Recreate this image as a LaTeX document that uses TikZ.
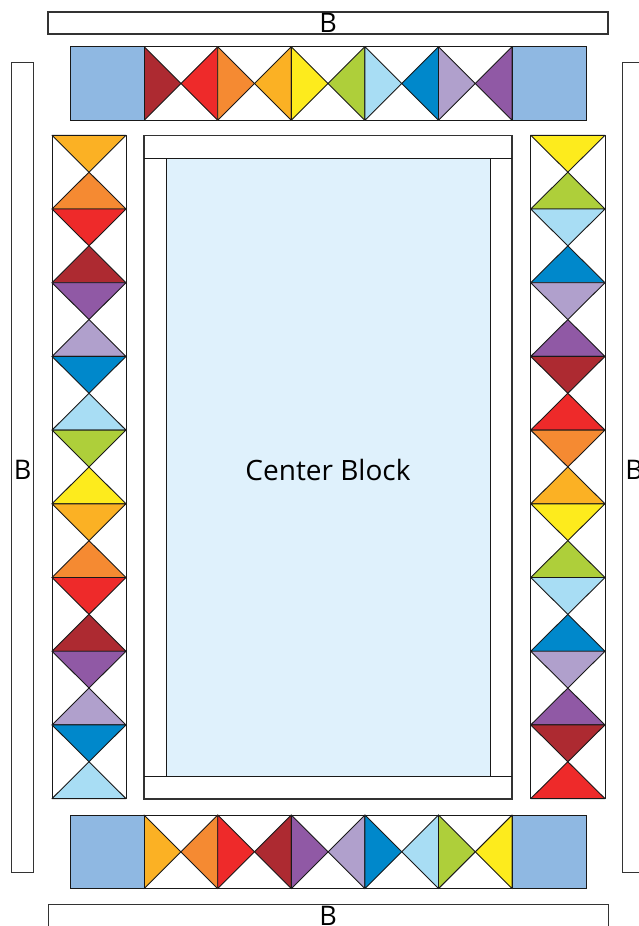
\documentclass[tikz,border=0pt]{standalone}
\usepackage{fontspec}
\setmainfont{Open Sans}
\definecolor{qdarkred}{HTML}{AD2A31}
\definecolor{qred}{HTML}{EE2A2A}
\definecolor{qorange}{HTML}{F58A32}
\definecolor{qamber}{HTML}{FBB124}
\definecolor{qyellow}{HTML}{FDEB1D}
\definecolor{qgreen}{HTML}{AECF3A}
\definecolor{qlblue}{HTML}{A8DDF4}
\definecolor{qblue}{HTML}{0088CB}
\definecolor{qlav}{HTML}{B0A0CC}
\definecolor{qpurple}{HTML}{9059A5}
\definecolor{qcorner}{HTML}{8FB8E2}
\definecolor{qcenter}{HTML}{DFF1FC}
\tikzset{
  patch/.style={draw=black!90, line width=0.9pt, line join=round},
  strip/.style={draw=black!80, line width=1.2pt, fill=white},
  lbl/.style={font=\fontsize{27}{29}\selectfont, inner sep=0pt}
}
\begin{document}
\begin{tikzpicture}[x=1pt,y=-1pt]
  \useasboundingbox (0,0) rectangle (639,926);

  % outer B strips
  \draw[strip] (48,12) rectangle (608,34);
  \draw[strip] (48.3,904.3) rectangle (608.3,940);
  \draw[strip] (11.7,62.3) rectangle (33.7,872.3);
  \draw[strip] (622.7,62.3) rectangle (660,872.3);
  \node[lbl] (btop) at (328,22.5) {B};
  \node[lbl] (bbottom) at (328,916) {B};
  \node[lbl] (bleft) at (22.7,470) {B};
  \node[lbl] (bright) at (634,470) {B};

  % center block with frame
  \draw[strip] (144,135.3) rectangle (512,799);
  \draw[patch, fill=qcenter] (166.3,158.3) rectangle (490,776.7);
  \draw[patch] (144,158.3) -- (512,158.3);
  \draw[patch] (144,776.7) -- (512,776.7);
  \node[font=\fontsize{28}{30}\selectfont] (center) at (328,470) {Center Block};

  % top row
  \draw[patch] (70.5,46.7) rectangle (586,120.3);
  \foreach \cl/\cr [count=\i] in {qdarkred/qred, qorange/qamber, qyellow/qgreen, qlblue/qblue, qlav/qpurple}{
    \begin{scope}[shift={(70.5+\i*73.6,46.7)}]
      \filldraw[patch, fill=\cl] (0,0) -- (36.8,36.8) -- (0,73.6) -- cycle;
      \filldraw[patch, fill=\cr] (73.6,0) -- (36.8,36.8) -- (73.6,73.6) -- cycle;
    \end{scope}
  }
  \filldraw[patch, fill=qcorner] (70.5,46.7) rectangle (144.1,120.3);
  \filldraw[patch, fill=qcorner] (512.4,46.7) rectangle (586,120.3);

  % bottom row
  \draw[patch] (70.5,815) rectangle (586,888.6);
  \foreach \cl/\cr [count=\i] in {qamber/qorange, qred/qdarkred, qpurple/qlav, qblue/qlblue, qgreen/qyellow}{
    \begin{scope}[shift={(70.5+\i*73.6,815)}]
      \filldraw[patch, fill=\cl] (0,0) -- (36.8,36.8) -- (0,73.6) -- cycle;
      \filldraw[patch, fill=\cr] (73.6,0) -- (36.8,36.8) -- (73.6,73.6) -- cycle;
    \end{scope}
  }
  \filldraw[patch, fill=qcorner] (70.5,815) rectangle (144.1,888.6);
  \filldraw[patch, fill=qcorner] (512.4,815) rectangle (586,888.6);

  % left column
  \draw[patch] (52,135.3) rectangle (126,798.6);
  \foreach \ct/\cb [count=\i from 0] in {qamber/qorange, qred/qdarkred, qpurple/qlav, qblue/qlblue, qgreen/qyellow,
      qamber/qorange, qred/qdarkred, qpurple/qlav, qblue/qlblue}{
    \begin{scope}[shift={(52,135.3+\i*73.7)}]
      \filldraw[patch, fill=\ct] (0,0) -- (74,0) -- (37,36.85) -- cycle;
      \filldraw[patch, fill=\cb] (0,73.7) -- (74,73.7) -- (37,36.85) -- cycle;
    \end{scope}
  }

  % right column
  \draw[patch] (530.7,135.3) rectangle (605,798.6);
  \foreach \ct/\cb [count=\i from 0] in {qyellow/qgreen, qlblue/qblue, qlav/qpurple, qdarkred/qred, qorange/qamber,
      qyellow/qgreen, qlblue/qblue, qlav/qpurple, qdarkred/qred}{
    \begin{scope}[shift={(530.7,135.3+\i*73.7)}]
      \filldraw[patch, fill=\ct] (0,0) -- (74.3,0) -- (37.15,36.85) -- cycle;
      \filldraw[patch, fill=\cb] (0,73.7) -- (74.3,73.7) -- (37.15,36.85) -- cycle;
    \end{scope}
  }
\end{tikzpicture}
\end{document}
